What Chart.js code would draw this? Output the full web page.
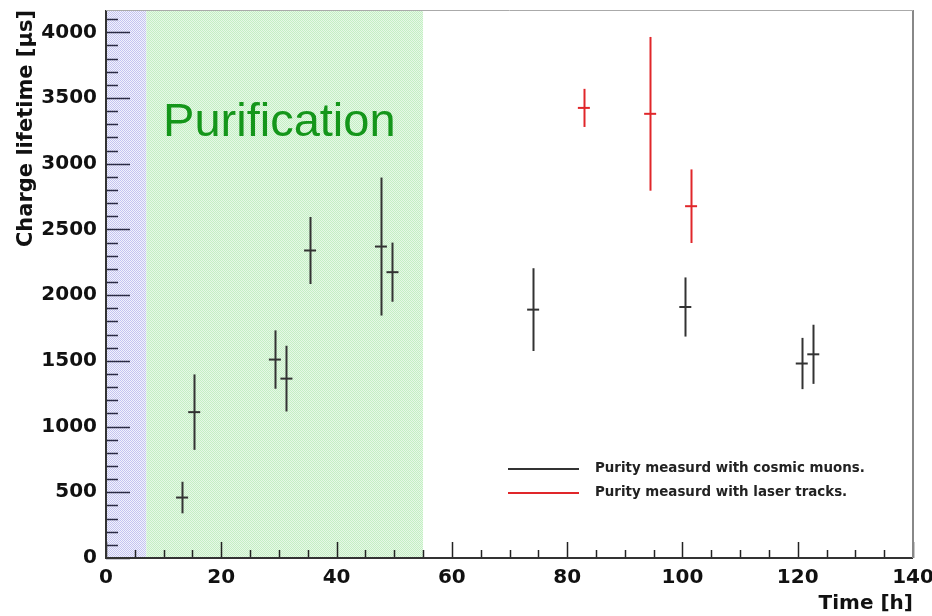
<!DOCTYPE html>
<html>
<head>
<meta charset="utf-8">
<script src="https://cdn.jsdelivr.net/npm/chart.js@4/dist/chart.umd.min.js"></script>
<style>
  html, body { margin: 0; padding: 0; background: #fff; }
  #wrap { width: 932px; height: 616px; }
</style>
</head>
<body>
<div id="wrap"><canvas id="lifetime-chart"></canvas></div>
<script>
// cosmic muon measurements
const muonTimes = [13.2, 15.3, 29.3, 31.3, 35.4, 47.7, 49.7, 74.1, 100.5, 120.7, 122.7];
const muonLifetimes = [460, 1110, 1510, 1365, 2340, 2370, 2175, 1890, 1910, 1480, 1550];
const muonErrors = [120, 287, 222, 250, 255, 525, 225, 315, 225, 195, 225];

// laser track measurements
const laserTimes = [82.9, 94.4, 101.5];
const laserLifetimes = [3425, 3380, 2677];
const laserErrors = [145, 585, 280];

const xTicks = [0, 20, 40, 60, 80, 100, 120, 140];
const yTicks = [0, 500, 1000, 1500, 2000, 2500, 3000, 3500, 4000];

const fillRegion = [0, 7];
const purificationRegion = [7, 55];

const legendLabels = ['Purity measurd with cosmic muons.', 'Purity measurd with laser tracks.'];

const FONT = '"DejaVu Sans", "Liberation Sans", Arial, sans-serif';
const MUON_COLOR = '#333333';
const LASER_COLOR = '#e0262a';

function checker(c1, c2) {
  const p = document.createElement('canvas');
  p.width = 2;
  p.height = 2;
  const g = p.getContext('2d');
  g.fillStyle = c1;
  g.fillRect(0, 0, 2, 2);
  g.fillStyle = c2;
  g.fillRect(0, 0, 1, 1);
  g.fillRect(1, 1, 1, 1);
  return p;
}

const regionsPlugin = {
  id: 'regions',
  beforeDatasetsDraw(chart) {
    const { ctx, chartArea: a, scales: { x, y } } = chart;
    ctx.save();
    ctx.fillStyle = ctx.createPattern(checker('#f2f2fd', '#c4c4f0'), 'repeat');
    ctx.fillRect(x.getPixelForValue(fillRegion[0]), a.top, x.getPixelForValue(fillRegion[1]) - x.getPixelForValue(fillRegion[0]), a.bottom - a.top);
    ctx.fillStyle = ctx.createPattern(checker('#e6f8e6', '#c4efc4'), 'repeat');
    ctx.fillRect(x.getPixelForValue(purificationRegion[0]), a.top, x.getPixelForValue(purificationRegion[1]) - x.getPixelForValue(purificationRegion[0]), a.bottom - a.top);

    // label
    ctx.fillStyle = '#14961a';
    ctx.font = '47px "Liberation Sans", Arial, sans-serif';
    ctx.textBaseline = 'alphabetic';
    ctx.fillText('Purification', x.getPixelForValue(9.9), y.getPixelForValue(3215));
    ctx.restore();
  },
};

const errorBarsPlugin = {
  id: 'errorBars',
  afterDatasetsDraw(chart) {
    const { ctx, scales: { x, y } } = chart;
    const sets = [
      [muonTimes, muonLifetimes, muonErrors, MUON_COLOR],
      [laserTimes, laserLifetimes, laserErrors, LASER_COLOR],
    ];
    ctx.save();
    ctx.lineWidth = 2;
    sets.forEach(([ts, vs, es, color]) => {
      ctx.strokeStyle = color;
      ts.forEach((t, i) => {
        const px = Math.round(x.getPixelForValue(t)) + 0.5;
        ctx.beginPath();
        ctx.moveTo(px, y.getPixelForValue(vs[i] + es[i]));
        ctx.lineTo(px, y.getPixelForValue(vs[i] - es[i]));
        ctx.stroke();
      });
    });
    ctx.restore();
  },
};

const frameTicksPlugin = {
  id: 'frameTicks',
  afterDraw(chart) {
    const { ctx, chartArea: a, scales: { x, y } } = chart;
    ctx.save();
    ctx.lineWidth = 1.5;
    ctx.strokeStyle = '#2a2a44';
    // y ticks, major every 500
    for (let v = 0; v <= 4100; v += 100) {
      const py = Math.round(y.getPixelForValue(v)) + 0.5;
      const len = v % 500 === 0 ? 24 : 12;
      ctx.beginPath();
      ctx.moveTo(a.left, py);
      ctx.lineTo(a.left + len, py);
      ctx.stroke();
    }
    // x ticks, major every 20
    ctx.strokeStyle = '#222';
    for (let v = 0; v <= 140; v += 5) {
      const px = Math.round(x.getPixelForValue(v)) + 0.5;
      const len = v % 20 === 0 ? 16 : 8;
      ctx.beginPath();
      ctx.moveTo(px, a.bottom);
      ctx.lineTo(px, a.bottom - len);
      ctx.stroke();
    }
    // frame
    ctx.lineWidth = 2;
    ctx.strokeStyle = '#333';
    ctx.beginPath();
    ctx.moveTo(a.left, a.top);
    ctx.lineTo(a.left, a.bottom);
    ctx.lineTo(a.right, a.bottom);
    ctx.stroke();
    ctx.strokeStyle = '#888';
    ctx.beginPath();
    ctx.moveTo(a.right, a.bottom);
    ctx.lineTo(a.right, a.top);
    ctx.stroke();
    ctx.lineWidth = 1;
    ctx.strokeStyle = '#aaa';
    ctx.beginPath();
    ctx.moveTo(a.left, a.top + 0.5);
    ctx.lineTo(a.right, a.top + 0.5);
    ctx.stroke();

    // legend
    const lx = 508;
    const ly = [469, 493];
    ctx.font = 'bold 13.4px ' + FONT;
    ctx.textBaseline = 'middle';
    [MUON_COLOR, LASER_COLOR].forEach((c, i) => {
      ctx.strokeStyle = c;
      ctx.lineWidth = 2;
      ctx.beginPath();
      ctx.moveTo(lx, ly[i]);
      ctx.lineTo(lx + 71, ly[i]);
      ctx.stroke();
      ctx.fillStyle = '#222';
      ctx.fillText(legendLabels[i], lx + 87, ly[i]);
    });
    ctx.restore();
  },
};

new Chart(document.getElementById('lifetime-chart'), {
  type: 'scatter',
  data: {
    datasets: [
      {
        label: legendLabels[0],
        data: muonTimes.map((t, i) => ({ x: t, y: muonLifetimes[i] })),
        pointStyle: 'line',
        pointRadius: 6,
        borderColor: MUON_COLOR,
        borderWidth: 2,
      },
      {
        label: legendLabels[1],
        data: laserTimes.map((t, i) => ({ x: t, y: laserLifetimes[i] })),
        pointStyle: 'line',
        pointRadius: 6,
        borderColor: LASER_COLOR,
        borderWidth: 2,
      },
    ],
  },
  options: {
    responsive: true,
    maintainAspectRatio: false,
    animation: false,
    layout: { padding: { left: 0, right: 19, top: 10, bottom: 0 } },
    plugins: {
      legend: { display: false },
      tooltip: { enabled: false },
    },
    scales: {
      x: {
        type: 'linear',
        min: 0,
        max: 140,
        afterFit: (s) => {
          s.height = 58;
          s.paddingLeft = 0;
          s.paddingRight = 0;
        },
        afterBuildTicks: (s) => { s.ticks = xTicks.map((v) => ({ value: v })); },
        grid: { display: false, drawTicks: false },
        border: { display: false },
        ticks: {
          padding: 8,
          maxRotation: 0,
          color: '#111',
          font: { family: FONT, size: 20, weight: 'bold' },
          callback: (v) => String(v),
        },
        title: {
          display: true,
          text: 'Time [h]',
          align: 'end',
          color: '#111',
          padding: { top: 2, bottom: 0 },
          font: { family: FONT, size: 20, weight: 'bold' },
        },
      },
      y: {
        min: 0,
        max: 4170,
        afterFit: (s) => {
          s.width = 106;
          s.paddingTop = 0;
          s.paddingBottom = 0;
        },
        afterBuildTicks: (s) => { s.ticks = yTicks.map((v) => ({ value: v })); },
        grid: { display: false, drawTicks: false },
        border: { display: false },
        ticks: {
          padding: 9,
          color: '#111',
          font: { family: FONT, size: 20, weight: 'bold' },
          callback: (v) => String(v),
        },
        title: {
          display: true,
          text: 'Charge lifetime [µs]',
          align: 'end',
          color: '#111',
          padding: { top: 14, bottom: 0 },
          font: { family: FONT, size: 21, weight: 'bold' },
        },
      },
    },
  },
  plugins: [regionsPlugin, errorBarsPlugin, frameTicksPlugin],
});
</script>
</body>
</html>
